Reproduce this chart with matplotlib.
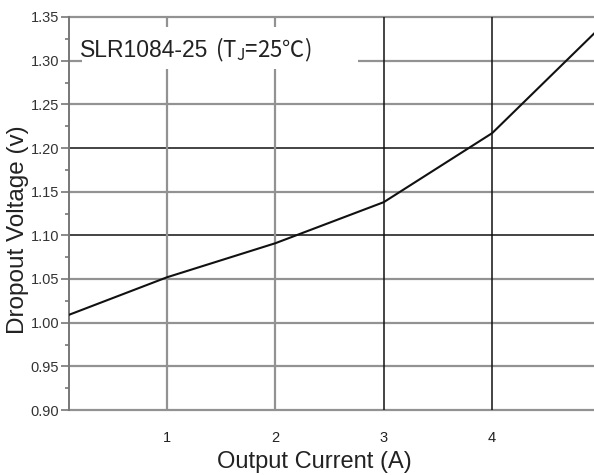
import matplotlib
matplotlib.use("Agg")
import matplotlib.pyplot as plt
from matplotlib.patches import Rectangle

plt.rcParams['font.family'] = ['Liberation Sans', 'Noto Sans CJK SC', 'DejaVu Sans']

# ── 数据 ──
current = [0.095, 1, 2, 3, 4, 4.94]
dropout = [1.009, 1.052, 1.091, 1.138, 1.217, 1.331]

x_ticks = [1, 2, 3, 4]
y_ticks = [0.90, 0.95, 1.00, 1.05, 1.10, 1.15, 1.20, 1.25, 1.30, 1.35]
dark_x = [3, 4]
dark_y = [1.10, 1.20]

GRAY = "#929292"
DARK = "#111111"

fig = plt.figure(figsize=(5.94, 4.75), dpi=100, facecolor="white")
ax = fig.add_axes([69 / 594, 65 / 475, 525 / 594, 393 / 475])
ax.set_xlim(0.095, 4.94)
ax.set_ylim(0.90, 1.35)

for s in ["top", "right", "bottom"]:
    ax.spines[s].set_visible(False)
ax.spines["left"].set_color("#777777")
ax.spines["left"].set_linewidth(1.4)

# grid
for yv in y_ticks:
    dark = any(abs(yv - d) < 1e-9 for d in dark_y)
    ax.axhline(yv, color=DARK if dark else GRAY,
               lw=1.1 if dark else 1.6, zorder=1, clip_on=False)
for xv in x_ticks:
    dark = xv in dark_x
    ax.axvline(xv, color=DARK if dark else GRAY,
               lw=1.1 if dark else 1.6, zorder=1)

# 标注框
ax.add_patch(Rectangle((0.025, 0.868), 0.525, 0.107, transform=ax.transAxes,
                       facecolor="white", edgecolor="none", zorder=2))
ax.text(0.021, 0.898, "SLR1084-25", transform=ax.transAxes, fontsize=16.5,
        color="#222222", ha="left", va="baseline", zorder=3)
ax.text(0.278, 0.898, r"(T$_\mathregular{J}$=25℃)", transform=ax.transAxes,
        fontsize=16, color="#222222", ha="left", va="baseline", zorder=3,
        family=['Noto Sans CJK SC', 'DejaVu Sans'])

ax.plot(current, dropout, color="#111111", lw=1.5, zorder=4)

ax.set_xticks(x_ticks)
ax.set_xticklabels([str(v) for v in x_ticks])
ax.tick_params(axis="x", length=0, pad=15, labelsize=10.5, labelcolor="#222222")

ax.set_yticks(y_ticks)
ax.set_yticklabels([f"{v:.2f}" for v in y_ticks])
ax.set_yticks([v + 0.025 for v in y_ticks[:-1]], minor=True)
ax.tick_params(axis="y", which="major", length=6, width=1.2, color="#777777",
               pad=1, labelsize=10.5, labelcolor="#333333")
ax.tick_params(axis="y", which="minor", length=3, width=1.2, color="#777777")

ax.set_xlabel("Output Current (A)", fontsize=17, color="#222222")
ax.xaxis.set_label_coords(0.468, -0.104)
ax.set_ylabel("Dropout Voltage (v)", fontsize=17.5, color="#222222")
ax.yaxis.set_label_coords(-0.076, 0.46)

fig.savefig("out.png", dpi=100, facecolor="white")
